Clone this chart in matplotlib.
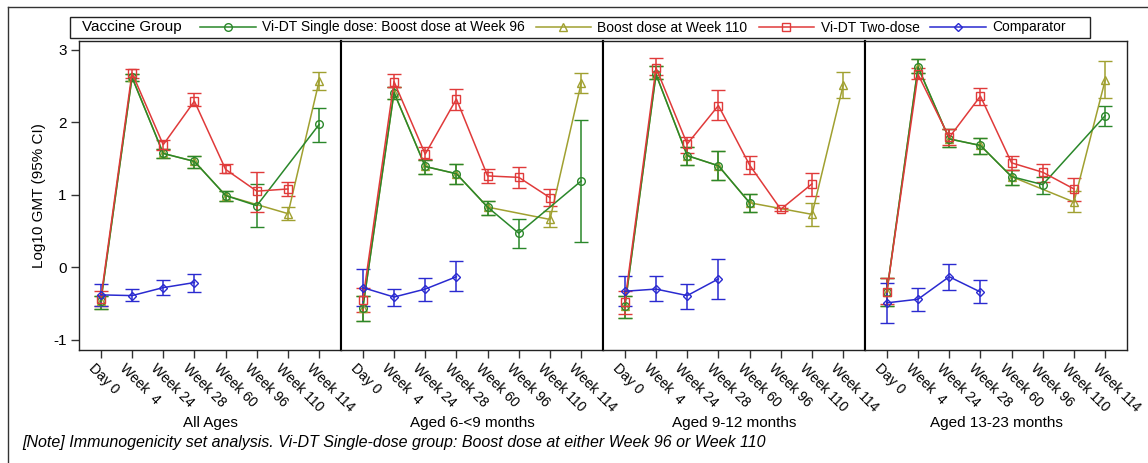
import numpy as np
import matplotlib
matplotlib.use("Agg")
import matplotlib.pyplot as plt
import matplotlib.transforms as mtransforms
from matplotlib.lines import Line2D
from matplotlib.patches import Rectangle

plt.rcParams['font.family'] = ['Liberation Sans', 'DejaVu Sans']
plt.rcParams['font.size'] = 11
plt.rcParams['axes.unicode_minus'] = False

nan = np.nan
timepoints = ["Day 0", "Week  4", "Week 24", "Week 28", "Week 60", "Week 96", "Week 110", "Week 114"]
panels = ["All Ages", "Aged 6-<9 months", "Aged 9-12 months", "Aged 13-23 months"]
series_names = ["Vi-DT Single dose: Boost dose at Week 96", "Boost dose at Week 110",
                "Vi-DT Two-dose", "Comparator"]

# Vi-DT single dose, boost at week 96 (green)
single96_gmt = [[-0.47, 2.62, 1.57, 1.46, 0.99, 0.85, nan, 1.97],
                [-0.56, 2.41, 1.39, 1.29, 0.83, 0.47, nan, 1.19],
                [-0.54, 2.66, 1.54, 1.40, 0.89, nan, nan, nan],
                [-0.34, 2.76, 1.77, 1.68, 1.25, 1.14, nan, 2.09]]
single96_lo = [[-0.58, 2.57, 1.51, 1.37, 0.92, 0.56, nan, 1.73],
               [-0.74, 2.32, 1.29, 1.15, 0.72, 0.26, nan, 0.35],
               [-0.70, 2.59, 1.41, 1.21, 0.76, nan, nan, nan],
               [-0.54, 2.68, 1.66, 1.56, 1.14, 1.01, nan, 1.95]]
single96_hi = [[-0.40, 2.67, 1.63, 1.54, 1.05, 1.15, nan, 2.20],
               [-0.40, 2.49, 1.48, 1.43, 0.92, 0.66, nan, 2.03],
               [-0.39, 2.78, 1.66, 1.61, 1.01, nan, nan, nan],
               [-0.15, 2.87, 1.91, 1.78, 1.34, 1.24, nan, 2.23]]

# Boost dose at week 110 (olive)
boost110_gmt = [[-0.47, 2.62, 1.57, 1.46, 0.99, nan, 0.74, 2.57],
                [-0.56, 2.41, 1.39, 1.29, 0.83, nan, 0.66, 2.54],
                [-0.54, 2.66, 1.54, 1.40, 0.89, nan, 0.73, 2.51],
                [-0.34, 2.76, 1.77, 1.68, 1.25, nan, 0.90, 2.58]]
boost110_lo = [[-0.58, 2.57, 1.51, 1.37, 0.92, nan, 0.65, 2.45],
               [-0.74, 2.32, 1.29, 1.15, 0.72, nan, 0.55, 2.40],
               [-0.70, 2.59, 1.41, 1.21, 0.76, nan, 0.57, 2.34],
               [-0.54, 2.68, 1.66, 1.56, 1.14, nan, 0.76, 2.33]]
boost110_hi = [[-0.40, 2.67, 1.63, 1.54, 1.05, nan, 0.83, 2.69],
               [-0.40, 2.49, 1.48, 1.43, 0.92, nan, 0.77, 2.68],
               [-0.39, 2.78, 1.66, 1.61, 1.01, nan, 0.88, 2.69],
               [-0.15, 2.87, 1.91, 1.78, 1.34, nan, 1.05, 2.84]]

# Vi-DT two-dose (red)
twodose_gmt = [[-0.43, 2.68, 1.69, 2.29, 1.35, 1.05, 1.08, nan],
               [-0.45, 2.56, 1.56, 2.32, 1.26, 1.24, 0.96, nan],
               [-0.48, 2.75, 1.70, 2.23, 1.41, 0.80, 1.15, nan],
               [-0.34, 2.66, 1.79, 2.36, 1.44, 1.31, 1.08, nan]]
twodose_lo = [[-0.53, 2.61, 1.62, 2.22, 1.30, 0.76, 0.99, nan],
              [-0.62, 2.49, 1.49, 2.17, 1.16, 1.09, 0.85, nan],
              [-0.64, 2.65, 1.58, 2.03, 1.29, 0.78, 0.99, nan],
              [-0.50, 2.59, 1.68, 2.24, 1.34, 1.18, 0.92, nan]]
twodose_hi = [[-0.32, 2.73, 1.75, 2.40, 1.42, 1.32, 1.17, nan],
              [-0.29, 2.66, 1.66, 2.46, 1.35, 1.38, 1.08, nan],
              [-0.32, 2.88, 1.80, 2.45, 1.54, 0.82, 1.30, nan],
              [-0.15, 2.75, 1.91, 2.47, 1.53, 1.43, 1.23, nan]]

# Comparator (blue)
comparator_gmt = [[-0.38, -0.39, -0.28, -0.21, nan, nan, nan, nan],
                  [-0.28, -0.41, -0.30, -0.13, nan, nan, nan, nan],
                  [-0.33, -0.30, -0.39, -0.16, nan, nan, nan, nan],
                  [-0.49, -0.44, -0.13, -0.34, nan, nan, nan, nan]]
comparator_lo = [[-0.53, -0.47, -0.38, -0.34, nan, nan, nan, nan],
                 [-0.53, -0.53, -0.46, -0.33, nan, nan, nan, nan],
                 [-0.54, -0.47, -0.57, -0.44, nan, nan, nan, nan],
                 [-0.77, -0.60, -0.31, -0.49, nan, nan, nan, nan]]
comparator_hi = [[-0.23, -0.30, -0.18, -0.09, nan, nan, nan, nan],
                 [-0.03, -0.30, -0.15, 0.09, nan, nan, nan, nan],
                 [-0.12, -0.12, -0.23, 0.12, nan, nan, nan, nan],
                 [-0.21, -0.29, 0.05, -0.18, nan, nan, nan, nan]]

colors = ["#2a872a", "#a0a030", "#e03a3a", "#2a2ad0"]
markers = ["o", "^", "s", "D"]
msizes = [5.5, 6, 5.5, 4.5]

# draw order: olive first so green lies on top of shared early points
draw = [
    (1, boost110_gmt, boost110_lo, boost110_hi),
    (0, single96_gmt, single96_lo, single96_hi),
    (2, twodose_gmt, twodose_lo, twodose_hi),
    (3, comparator_gmt, comparator_lo, comparator_hi),
]

W, H = 1148, 463
fig = plt.figure(figsize=(W / 100, H / 100), dpi=100)

ax_left, ax_top, ax_bot = 79, 41, 350
pw = 262
axes = []
for p in range(4):
    x0 = ax_left + p * pw
    ax = fig.add_axes([x0 / W, 1 - ax_bot / H, pw / W, (ax_bot - ax_top) / H])
    axes.append(ax)
    xs = np.arange(len(timepoints))
    for idx, g, lo, hi in draw:
        v = np.array(g[p], dtype=float)
        l = np.array(lo[p], dtype=float)
        h = np.array(hi[p], dtype=float)
        m = ~np.isnan(v)
        ax.errorbar(xs[m], v[m], yerr=[v[m] - l[m], h[m] - v[m]],
                    color=colors[idx], marker=markers[idx], ms=msizes[idx],
                    mfc='none', mec=colors[idx], mew=1.0, lw=1.1,
                    elinewidth=1.1, capsize=5, capthick=1.1, zorder=3)
    ax.set_xlim(-0.7, 7.7)
    ax.set_ylim(-1.14, 3.12)
    ax.set_xticks(xs)
    ax.set_xticklabels(timepoints, rotation=-45, ha='left', va='top',
                       rotation_mode='anchor')
    ax.tick_params(axis='x', length=6, width=1, color='#333333', pad=2, labelsize=10)
    for lab in ax.get_xticklabels():
        lab.set_transform(lab.get_transform() + mtransforms.ScaledTranslation(-5 / 100, 0, fig.dpi_scale_trans))
    ax.set_yticks([-1, 0, 1, 2, 3])
    if p == 0:
        ax.tick_params(axis='y', length=6, width=1, color='#333333', labelsize=11, pad=3)
        ax.set_ylabel("Log10 GMT (95% CI)", fontsize=11)
        ax.yaxis.set_label_coords(-(79 - 46) / pw, 0.5)
    else:
        ax.tick_params(axis='y', left=False, labelleft=False)
    for side, sp in ax.spines.items():
        sp.set_color('#222222')
        sp.set_linewidth(1.0)
    if p > 0:
        ax.spines['left'].set_color('black')
        ax.spines['left'].set_linewidth(1.5)
    if p < 3:
        ax.spines['right'].set_color('black')
        ax.spines['right'].set_linewidth(1.5)
    ax.set_xlabel(panels[p], fontsize=11, va='center')
    ax.xaxis.set_label_coords(0.5, -(423 - ax_bot) / (ax_bot - ax_top))

# outer frame (left and top lines)
fig.add_artist(Line2D([8 / W, 8 / W], [0, 1 - 7 / H], transform=fig.transFigure, color='#333333', lw=1))
fig.add_artist(Line2D([8 / W, 1], [1 - 7 / H, 1 - 7 / H], transform=fig.transFigure, color='#333333', lw=1))

# legend box
fig.add_artist(Rectangle((70 / W, 1 - 38 / H), (1090 - 70) / W, 21 / H, transform=fig.transFigure,
                         fill=False, ec='#222222', lw=1))
fig.text(82 / W, 1 - 27.5 / H, "Vaccine Group", ha='left', va='center', fontsize=11)
handles = [Line2D([], [], color=colors[i], marker=markers[i], ms=msizes[i], mfc='none',
                  mec=colors[i], lw=1.1) for i in range(4)]
fig.legend(handles, series_names, loc='center left', bbox_to_anchor=(200 / W, 1 - 27.5 / H),
           ncol=4, frameon=False, borderpad=0, borderaxespad=0, handlelength=4.0,
           handletextpad=0.45, columnspacing=0.8, fontsize=10)

fig.text(22 / W, 1 - 443 / H,
         "[Note] Immunogenicity set analysis. Vi-DT Single-dose group: Boost dose at either Week 96 or Week 110",
         ha='left', va='center', fontsize=11.5, style='italic')

fig.savefig("out.png", dpi=100)
